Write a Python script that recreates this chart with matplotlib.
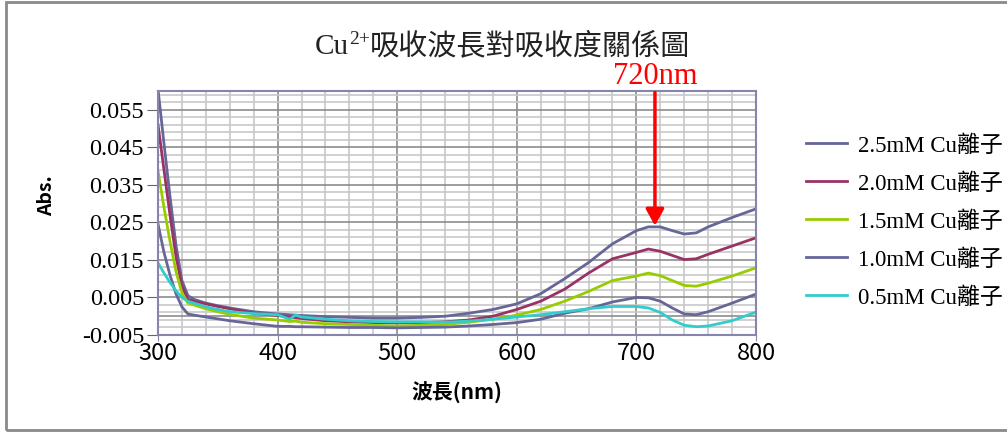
import numpy as np
import matplotlib
matplotlib.use("Agg")
import matplotlib.pyplot as plt
from matplotlib.patches import Rectangle
from matplotlib.ticker import MultipleLocator, FixedLocator

# wavelength (nm)
wl = [300, 305, 310, 315, 320, 325, 330, 340, 350, 360, 380, 400, 410, 415, 420,
      440, 460, 480, 500, 520, 540, 560, 580, 600, 620, 640, 660, 680, 700, 710,
      720, 730, 740, 750, 760, 780, 800]

abs_25 = [0.0605, 0.046, 0.032, 0.019, 0.0095, 0.0055, 0.0045, 0.0035, 0.0028, 0.0022,
          0.0012, 0.0006, 0.0004, 0.0003, 0.0002, -0.0001, -0.0003, -0.0005, -0.0005,
          -0.0003, 0.0, 0.0008, 0.0018, 0.0033, 0.0060, 0.0100, 0.0143, 0.0193, 0.0228,
          0.0238, 0.0238, 0.0228, 0.0219, 0.0222, 0.0238, 0.0263, 0.0286]
abs_20 = [0.051, 0.039, 0.027, 0.016, 0.008, 0.0045, 0.004, 0.0033, 0.0026, 0.0020,
          0.0008, 0.0002, -0.0002, -0.0004, -0.0006, -0.0012, -0.0015, -0.0017, -0.0018,
          -0.0017, -0.0015, -0.0010, 0.0000, 0.0018, 0.0040, 0.0072, 0.0115, 0.0153,
          0.0170, 0.0179, 0.0173, 0.0162, 0.0151, 0.0153, 0.0165, 0.0187, 0.0209]
abs_15 = [0.0387, 0.029, 0.020, 0.012, 0.0062, 0.0035, 0.003, 0.002, 0.0012, 0.0005,
          -0.0005, -0.0010, -0.0014, -0.0013, -0.0016, -0.0020, -0.0022, -0.0024, -0.0026,
          -0.0024, -0.0022, -0.0016, -0.0008, 0.0003, 0.0018, 0.0040, 0.0066, 0.0095,
          0.0107, 0.0115, 0.0108, 0.0095, 0.0082, 0.0080, 0.0088, 0.0107, 0.0129]
abs_10 = [0.0246, 0.017, 0.011, 0.006, 0.0025, 0.0006, 0.0003, -0.0002, -0.0007, -0.0012,
          -0.0020, -0.0027, -0.0027, -0.0028, -0.0028, -0.0029, -0.0030, -0.0030, -0.0031,
          -0.0030, -0.0029, -0.0026, -0.0022, -0.0017, -0.0008, 0.0008, 0.0020, 0.0038,
          0.0050, 0.0049, 0.0040, 0.0022, 0.0006, 0.0004, 0.0012, 0.0035, 0.0059]
abs_05 = [0.0142, 0.0115, 0.009, 0.0068, 0.0050, 0.0040, 0.0035, 0.0025, 0.0018, 0.0012,
          0.0007, 0.0004, -0.0008, 0.0003, -0.0002, -0.0008, -0.0012, -0.0014, -0.0015,
          -0.0015, -0.0016, -0.0013, -0.0008, -0.0002, 0.0004, 0.0012, 0.0020, 0.0026,
          0.0026, 0.0022, 0.0010, -0.0010, -0.0024, -0.0028, -0.0026, -0.0012, 0.0011]

labels = ["2.5mM Cu離子", "2.0mM Cu離子", "1.5mM Cu離子", "1.0mM Cu離子", "0.5mM Cu離子"]
colors = ["#666699", "#993366", "#99CC00", "#666699", "#33CCCC"]
series = [abs_25, abs_20, abs_15, abs_10, abs_05]

yticks = [-0.005, 0.005, 0.015, 0.025, 0.035, 0.045, 0.055]
xticks = [300, 400, 500, 600, 700, 800]

serif = ["Liberation Serif", "Noto Sans CJK TC"]
sans = ["Noto Sans CJK TC", "DejaVu Sans"]

fig = plt.figure(figsize=(10.07, 4.32), dpi=100)
ax = fig.add_axes([158 / 1007, 1 - 335 / 432, (756 - 158) / 1007, (335 - 91) / 432])

# grid
ax.set_xlim(300, 800)
ax.set_ylim(-0.005, 0.060)
ax.xaxis.set_major_locator(FixedLocator(xticks))
ax.xaxis.set_minor_locator(MultipleLocator(20))
ax.yaxis.set_major_locator(FixedLocator(yticks))
ax.yaxis.set_minor_locator(FixedLocator(np.arange(-0.005, 0.0601, 0.002)))
ax.grid(which="minor", color="#C8C8C8", linewidth=1.2)
ax.grid(which="major", color="#8C8C8C", linewidth=1.2)
ax.axhline(0, color="#8C8C8C", linewidth=1.2, zorder=1)
ax.set_axisbelow(True)

for y, c, lab in zip(series, colors, labels):
    ax.plot(wl, y, color=c, linewidth=2.0, label=lab, clip_on=True)

for s in ax.spines.values():
    s.set_color("#8585AD")
    s.set_linewidth(1.5)

ax.tick_params(axis="y", which="major", direction="out", length=8, color="#666666",
               labelsize=17.5, pad=2)
ax.tick_params(axis="x", which="major", direction="out", length=4, color="#8585AD",
               labelsize=17, pad=1)
ax.tick_params(which="minor", length=0)
ax.set_yticklabels(["-0.005", "0.005", "0.015", "0.025", "0.035", "0.045", "0.055"])
for t in ax.get_yticklabels():
    t.set_family(serif)
for t in ax.get_xticklabels():
    t.set_family(sans)

ax.set_xlabel("波長(nm)", family=sans, fontsize=15, fontweight="bold", labelpad=12)
ax.set_ylabel("Abs.", family=sans, fontsize=14, fontweight="bold")
ax.yaxis.set_label_coords(-0.17, 0.57)

# arrow at 720nm
ax.annotate("", xy=(715.5, 0.0241), xytext=(715.5, 0.0596),
            arrowprops=dict(arrowstyle="-|>,head_length=1.0,head_width=0.55",
                            color="red", lw=2.5, shrinkA=0, shrinkB=0))
fig.text(655 / 1007, 1 - 84 / 432, "720nm", color="red", family=serif, fontsize=22,
         ha="center", va="baseline")

# title with superscript
ty = 1 - 54 / 432
cu = fig.text(315 / 1007, ty, "Cu", family=serif, fontsize=21, va="baseline", color="#222222")
fig.canvas.draw()
r = fig.canvas.get_renderer()
bb = cu.get_window_extent(r)
sup = fig.text(bb.x1 / fig.bbox.width, ty + 10 / 432, "2+", family=serif, fontsize=14,
               va="baseline", color="#222222")
bb2 = sup.get_window_extent(r)
fig.text(bb2.x1 / fig.bbox.width, ty, "吸收波長對吸收度關係圖", family=serif, fontsize=21,
         va="baseline", color="#222222")

leg = ax.legend(loc="upper left", bbox_to_anchor=(806 / 1007, 1 - 135 / 432),
                bbox_transform=fig.transFigure, frameon=False, prop={"family": serif, "size": 16.5},
                handlelength=1.8, handletextpad=0.45, labelspacing=0.72,
                borderpad=0, borderaxespad=0)

# outer chart frame
fig.patches.append(Rectangle((6 / 1007, 2 / 432), 1.2, 428 / 432, transform=fig.transFigure,
                             fill=False, edgecolor="#8A8A8A", linewidth=2, clip_on=False))

fig.savefig("out.png", dpi=100)
